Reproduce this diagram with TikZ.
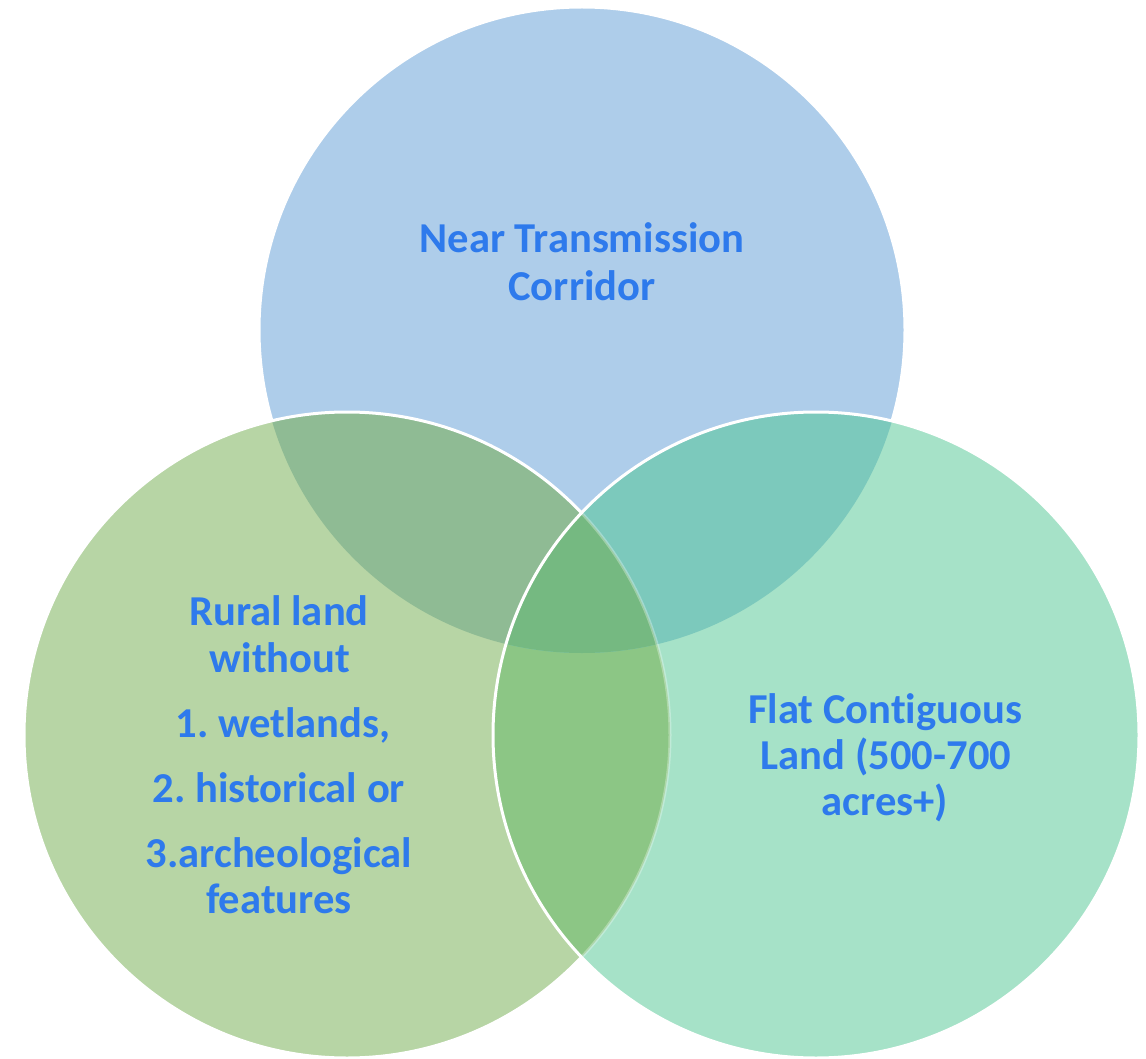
\documentclass[tikz,border=0pt]{standalone}
\usepackage{fontspec}
\setmainfont[Ligatures=NoCommon]{Carlito}
\definecolor{cTop}{HTML}{AECDEA}
\definecolor{cLeft}{HTML}{B7D5A5}
\definecolor{cRight}{HTML}{A6E2C8}
\definecolor{cTL}{HTML}{8FBB94}
\definecolor{cTR}{HTML}{7CC9BC}
\definecolor{cLR}{HTML}{8CC685}
\definecolor{cMid}{HTML}{75B981}
\definecolor{txt}{HTML}{2E7AEC}
\frenchspacing
\begin{document}
\begin{tikzpicture}[x=0.5pt,y=-0.5pt,
  rim/.style={draw=white,line width=1.5pt},
  lbl/.style={anchor=base,text=txt,inner sep=0pt,font=\bfseries\fontsize{21.3}{25}\selectfont}]
\useasboundingbox (0,0) rectangle (1146,1059);
\coordinate (T) at (582,330);
\coordinate (L) at (347,735);
\coordinate (R) at (816,735);
\def\rr{161.5pt}
% top circle
\fill[cTop] (T) circle[radius=\rr];
\draw[rim] (T) circle[radius=\rr];
% left circle
\fill[cLeft] (L) circle[radius=\rr];
\begin{scope}
  \clip (T) circle[radius=\rr];
  \fill[cTL] (L) circle[radius=\rr];
\end{scope}
\draw[rim] (L) circle[radius=\rr];
% right circle
\fill[cRight] (R) circle[radius=\rr];
\begin{scope}
  \clip (R) circle[radius=\rr];
  \fill[cLR] (L) circle[radius=\rr];
  \clip (T) circle[radius=\rr];
  \fill[cTR] (R) circle[radius=\rr];
  \clip (L) circle[radius=\rr];
  \fill[cMid] (R) circle[radius=\rr];
\end{scope}
\begin{scope}
  \clip (R) circle[radius=\rr];
  \draw[draw=white,opacity=0.3,line width=1.5pt] (L) circle[radius=\rr];
\end{scope}
\draw[rim] (R) circle[radius=\rr];
% labels
\node[lbl] (t1) at (582,253) {Near Transmission};
\node[lbl] (t2) at (582,300) {Corridor};
\node[lbl] (l1) at (279,625) {Rural land};
\node[lbl] (l2) at (280,672) {without};
\node[lbl] (l3) at (283,737) {1. wetlands,};
\node[lbl] (l4) at (279,802) {2. historical or};
\node[lbl] (l5) at (279,867) {3.archeological};
\node[lbl] (l6) at (279,913) {features};
\node[lbl] (r1) at (885,723) {Flat Contiguous};
\node[lbl] (r2) at (886,769) {Land (500-700};
\node[lbl] (r3) at (885,815) {acres+)};
\end{tikzpicture}
\end{document}
